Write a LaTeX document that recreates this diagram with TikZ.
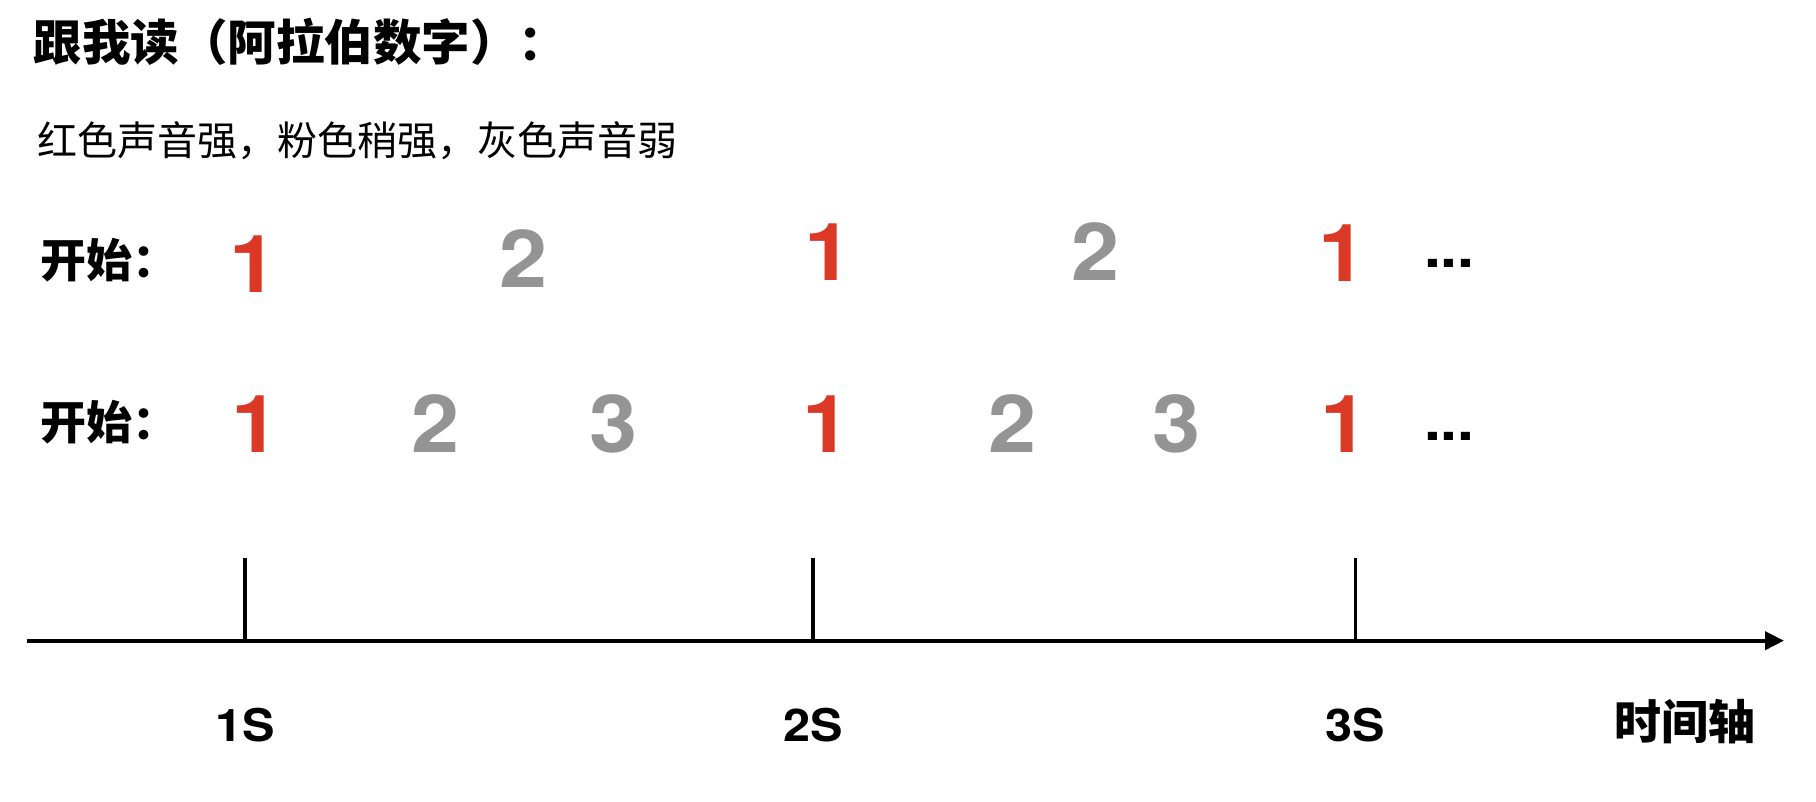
\documentclass[tikz,border=0pt]{standalone}
\usepackage{fontspec}
\usetikzlibrary{arrows.meta}
\newfontfamily\cjk{Noto Sans CJK SC}
\newfontfamily\heros[FakeStretch=1.08]{TeX Gyre Heros}
\definecolor{numred}{RGB}{219,57,38}
\definecolor{numgray}{RGB}{148,148,148}
\begin{document}
\begin{tikzpicture}[x=1pt,y=-1pt,
  every node/.style={inner sep=0pt, outer sep=0pt},
  heading/.style={anchor=west, font=\cjk\bfseries\fontsize{48.5}{58}\selectfont},
  legendtext/.style={anchor=west, font=\cjk\fontsize{40}{48}\selectfont},
  rowlabel/.style={anchor=west, font=\cjk\bfseries\fontsize{46}{55}\selectfont},
  axislabel/.style={anchor=west, font=\cjk\bfseries\fontsize{47}{56}\selectfont},
  digit/.style={anchor=base, font=\heros\bfseries\fontsize{80}{96}\selectfont},
  loud/.style={digit, text=numred},
  soft/.style={digit, text=numgray},
  ellip/.style={anchor=base west, font=\heros\bfseries\fontsize{56}{67}\selectfont},
  tlabel/.style={anchor=base, font=\heros\bfseries\fontsize{45}{54}\selectfont},
  timeline/.style={line width=4pt, -{Triangle[length=19pt,width=18pt]}},
  tickline/.style={line width=3.4pt}]
\useasboundingbox[fill=white] (0,0) rectangle (1816,802);

\node[heading] (title) at (34,42.3) {跟我读（阿拉伯数字）：};
\node[legendtext] (legend) at (37.5,141) {红色声音强，粉色稍强，灰色声音弱};
\node[rowlabel] (start1) at (40,260) {开始：};
\node[rowlabel] (start2) at (40,422.5) {开始：};

% row 1
\node[loud] (a1) at (253.7,292.7) {1};
\node[soft] (a2) at (524,287.3) {2};
\node[loud] (a3) at (828.4,281) {1};
\node[soft] (a4) at (1096,281) {2};
\node[loud] (a5) at (1342.6,281.7) {1};
\node[ellip] (a6) at (1424,267.7) {...};

% row 2
\node[loud] (b1) at (255.6,452) {1};
\node[soft] (b2) at (435.3,452) {2};
\node[soft] (b3) at (613.5,452) {3};
\node[loud] (b4) at (826.7,452) {1};
\node[soft] (b5) at (1012.4,452) {2};
\node[soft] (b6) at (1176.5,452) {3};
\node[loud] (b7) at (1344.2,452) {1};
\node[ellip] (b8) at (1424,440) {...};

% axis
\coordinate (axstart) at (26.7,640.7);
\coordinate (axend) at (1784,640.7);
\draw[timeline] (axstart) -- (axend);

\coordinate (t1top) at (245,557.7);
\coordinate (t1bot) at (245,640.7);
\coordinate (t2top) at (813,557.7);
\coordinate (t2bot) at (813,640.7);
\coordinate (t3top) at (1355.7,557.7);
\coordinate (t3bot) at (1355.7,640.7);
\draw[tickline] (t1top) -- (t1bot);
\draw[tickline] (t2top) -- (t2bot);
\draw[tickline] (t3top) -- (t3bot);

\node[tlabel] (l1) at (245,741) {1S};
\node[tlabel] (l2) at (813.5,741) {2S};
\node[tlabel] (l3) at (1355.5,741) {3S};
\node[axislabel] (axlabel) at (1614,721.5) {时间轴};
\end{tikzpicture}
\end{document}
